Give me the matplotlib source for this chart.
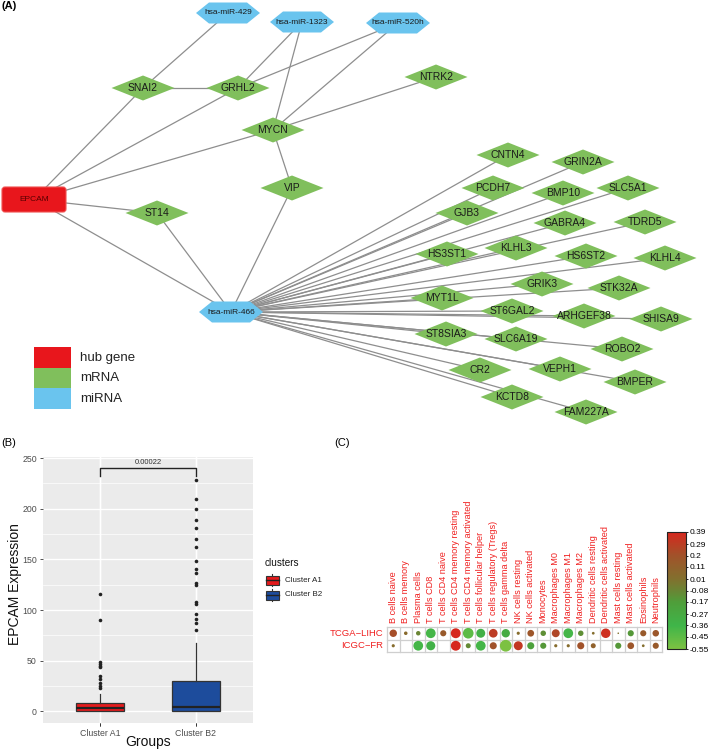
import numpy as np
import matplotlib
matplotlib.use('Agg')
import matplotlib.pyplot as plt
from matplotlib.patches import Polygon, FancyBboxPatch, Rectangle, Circle
from matplotlib.colors import LinearSegmentedColormap, Normalize
from matplotlib.cm import ScalarMappable

plt.rcParams['font.family'] = ['Liberation Sans', 'DejaVu Sans']

# ---------------- Panel A data (network) ----------------
hub_genes = ['EPCAM']
mirnas = ['hsa-miR-429', 'hsa-miR-1323', 'hsa-miR-520h', 'hsa-miR-466']
mrnas = ['SNAI2', 'GRHL2', 'NTRK2', 'MYCN', 'VIP', 'ST14',
         'CNTN4', 'GRIN2A', 'PCDH7', 'BMP10', 'SLC5A1', 'GJB3', 'GABRA4',
         'TDRD5', 'HS3ST1', 'KLHL3', 'HS6ST2', 'KLHL4', 'GRIK3', 'STK32A',
         'MYT1L', 'ST6GAL2', 'ARHGEF38', 'SHISA9', 'ST8SIA3', 'SLC6A19',
         'ROBO2', 'CR2', 'VEPH1', 'BMPER', 'KCTD8', 'FAM227A']
mir466_targets = mrnas[6:]
edges = ([('hsa-miR-429', 'SNAI2'), ('hsa-miR-1323', 'GRHL2'), ('hsa-miR-1323', 'MYCN'),
          ('hsa-miR-520h', 'GRHL2'), ('hsa-miR-520h', 'MYCN'), ('SNAI2', 'GRHL2'),
          ('EPCAM', 'SNAI2'), ('EPCAM', 'GRHL2'), ('EPCAM', 'MYCN'), ('MYCN', 'NTRK2'),
          ('MYCN', 'VIP'), ('VIP', 'hsa-miR-466'), ('EPCAM', 'ST14'),
          ('EPCAM', 'hsa-miR-466'), ('ST14', 'hsa-miR-466')]
         + [('hsa-miR-466', g) for g in mir466_targets])
legend_labels = ['hub gene', 'mRNA', 'miRNA']

# network layout (pixel canvas)
layout = {
    'EPCAM': (34, 199.5),
    'hsa-miR-429': (228, 13), 'hsa-miR-1323': (302, 22), 'hsa-miR-520h': (398, 23),
    'hsa-miR-466': (231, 312),
    'SNAI2': (143, 88), 'GRHL2': (238, 88), 'NTRK2': (436, 77), 'MYCN': (273, 130),
    'VIP': (292, 188), 'ST14': (157, 213),
    'CNTN4': (508, 155), 'GRIN2A': (583, 162), 'PCDH7': (493, 188), 'BMP10': (563, 193),
    'SLC5A1': (628, 188), 'GJB3': (467, 213), 'GABRA4': (565, 223), 'TDRD5': (645, 222),
    'HS3ST1': (447, 254), 'KLHL3': (516, 248), 'HS6ST2': (586, 256), 'KLHL4': (665, 258),
    'GRIK3': (542, 284), 'STK32A': (619, 288), 'MYT1L': (442, 298), 'ST6GAL2': (512, 311),
    'ARHGEF38': (584, 316), 'SHISA9': (661, 319), 'ST8SIA3': (446, 334),
    'SLC6A19': (516, 339), 'ROBO2': (622, 349), 'CR2': (480, 370), 'VEPH1': (560, 369),
    'BMPER': (635, 382), 'KCTD8': (512, 397), 'FAM227A': (586, 412),
}

# ---------------- Panel B data (boxplot) ----------------
cluster_names = ['Cluster A1', 'Cluster B2']
box_q1 = [0.0, 0.5]
box_median = [3.0, 4.5]
box_q3 = [8.5, 30.0]
whisker_low = [0.0, 0.0]
whisker_high = [17.0, 67.0]
outliers_a1 = [116, 90, 49, 47, 45, 44, 35, 32, 28, 25, 23]
outliers_b2 = [228, 210, 200, 189, 181, 170, 162, 148, 140, 137, 127, 125,
               108, 106, 96, 91, 87, 80]
p_value_label = '0.00022'
y_ticks_b = [0, 50, 100, 150, 200, 250]

# ---------------- Panel C data (correlation dots) ----------------
cell_types = ['B cells naive', 'B cells memory', 'Plasma cells', 'T cells CD8',
              'T cells CD4 naive', 'T cells CD4 memory resting',
              'T cells CD4 memory activated', 'T cells follicular helper',
              'T cells regulatory (Tregs)', 'T cells gamma delta', 'NK cells resting',
              'NK cells activated', 'Monocytes', 'Macrophages M0', 'Macrophages M1',
              'Macrophages M2', 'Dendritic cells resting', 'Dendritic cells activated',
              'Mast cells resting', 'Mast cells activated', 'Eosinophils', 'Neutrophils']
cohorts = ['TCGA\u2212LIHC', 'ICGC\u2212FR']
corr_tcga = [0.22, 0.05, -0.08, -0.38, 0.15, 0.39, -0.45, -0.32, 0.30, -0.28, 0.04,
             0.18, -0.12, 0.25, -0.38, -0.12, 0.03, 0.36, 0.01, -0.15, 0.15, 0.17]
corr_icgc = [0.04, np.nan, -0.38, -0.33, np.nan, 0.39, -0.10, -0.38, 0.20, -0.55, 0.32,
             -0.20, -0.15, 0.04, 0.04, 0.20, 0.10, np.nan, -0.15, 0.18, 0.03, 0.15]
cbar_ticks = [-0.55, -0.45, -0.36, -0.27, -0.17, -0.08, 0.01, 0.11, 0.2, 0.29, 0.39]
cbar_labels = ['-0.55', '-0.45', '-0.36', '-0.27', '-0.17',
               '-0.08', '0.01', '0.11', '0.2', '0.29', '0.39']

# ---------------- figure ----------------
W, H = 709, 751
fig = plt.figure(figsize=(W / 100, H / 100), dpi=100)
canvas = fig.add_axes([0, 0, 1, 1])
canvas.set_xlim(0, W)
canvas.set_ylim(H, 0)
canvas.axis('off')

RED = '#e8161c'
GREEN = '#80bf5c'
BLUE = '#6ac4ee'

for a, b in edges:
    (x1, y1), (x2, y2) = layout[a], layout[b]
    canvas.plot([x1, x2], [y1, y2], color='#8e8e8e', lw=0.9, zorder=1)

dw, dh = 63, 25
for g in mrnas:
    x, y = layout[g]
    canvas.add_patch(Polygon([(x - dw / 2, y), (x, y - dh / 2), (x + dw / 2, y), (x, y + dh / 2)],
                             closed=True, facecolor=GREEN, edgecolor='none', zorder=2))
    canvas.text(x, y, g, ha='center', va='center', fontsize=7.5, color='#1a1a1a', zorder=3)

hw, hh, hk = 64, 21, 13
for m in mirnas:
    x, y = layout[m]
    canvas.add_patch(Polygon([(x - hw / 2, y), (x - hw / 2 + hk, y - hh / 2),
                              (x + hw / 2 - hk, y - hh / 2), (x + hw / 2, y),
                              (x + hw / 2 - hk, y + hh / 2), (x - hw / 2 + hk, y + hh / 2)],
                             closed=True, facecolor=BLUE, edgecolor='none', zorder=2))
    canvas.text(x, y, m, ha='center', va='center', fontsize=6, color='#1a1a1a', zorder=3)

for h in hub_genes:
    x, y = layout[h]
    canvas.add_patch(FancyBboxPatch((x - 32, y - 12.5), 64, 25,
                                    boxstyle='round,pad=0,rounding_size=3',
                                    facecolor=RED, edgecolor='#f05050', lw=0.8, zorder=2))
    canvas.text(x, y, h, ha='center', va='center', fontsize=6, color='#5a0000', zorder=3)

leg_colors = [RED, GREEN, BLUE]
for i, (lab, c) in enumerate(zip(legend_labels, leg_colors)):
    canvas.add_patch(Rectangle((34, 347 + i * 20.5), 37, 20.5, facecolor=c, edgecolor='none'))
    canvas.text(80, 347 + i * 20.5 + 10.5, lab, ha='left', va='center', fontsize=9.5,
                color='#222222')

canvas.text(1, 6, '(A)', fontsize=8, fontweight='bold', ha='left', va='center')
canvas.text(1, 443, '(B)', fontsize=8, ha='left', va='center')
canvas.text(334, 443, '(C)', fontsize=8, ha='left', va='center')

# ---------------- Panel B ----------------
axb = fig.add_axes([43 / W, 1 - 723 / H, 210 / W, 266 / H])
axb.set_facecolor('#ebebeb')
axb.set_xlim(0.4, 2.6)
axb.set_ylim(-11.5, 251)
for sp in axb.spines.values():
    sp.set_visible(False)
axb.set_yticks(y_ticks_b)
axb.set_yticks([25, 75, 125, 175, 225], minor=True)
axb.set_xticks([1, 2])
axb.set_xticklabels(cluster_names)
axb.grid(True, which='major', color='white', lw=1.0)
axb.grid(True, which='minor', axis='y', color='white', lw=0.5)
axb.set_axisbelow(True)
axb.tick_params(axis='both', which='major', labelsize=6.3, labelcolor='#4d4d4d',
                color='#333333', length=2.5, width=0.6, pad=2)
axb.tick_params(axis='y', which='minor', length=0)

stats = []
fl = [outliers_a1, outliers_b2]
for i in range(2):
    stats.append(dict(label=cluster_names[i], med=box_median[i], q1=box_q1[i], q3=box_q3[i],
                      whislo=whisker_low[i], whishi=whisker_high[i], fliers=fl[i]))
bp = axb.bxp(stats, positions=[1, 2], widths=0.5, patch_artist=True, showcaps=False,
             boxprops=dict(edgecolor='#333333', lw=0.9),
             medianprops=dict(color='#222222', lw=1.6),
             whiskerprops=dict(color='#333333', lw=0.9),
             flierprops=dict(marker='o', markersize=2.6, markerfacecolor='#222222',
                             markeredgecolor='none'))
box_colors = ['#e41a1c', '#1d4c9c']
for patch, c in zip(bp['boxes'], box_colors):
    patch.set_facecolor(c)
    patch.set_zorder(2)

axb.plot([1, 1, 2, 2], [232, 240, 240, 232], color='#222222', lw=1.0)
axb.text(1.5, 242, p_value_label, ha='center', va='bottom', fontsize=5.5, color='#333333')

canvas.text(15, 584, 'EPCAM Expression', rotation=90, ha='center', va='center', fontsize=10,
            color='#111111')
canvas.text(148, 742, 'Groups', ha='center', va='center', fontsize=10, color='#111111')

# legend of B
canvas.text(265, 563, 'clusters', ha='left', va='center', fontsize=7.2, color='#111111')
for i, (lab, c) in enumerate(zip(cluster_names, box_colors)):
    yc = 580 + i * 15
    canvas.plot([272, 272], [yc - 6, yc + 6], color='#333333', lw=0.8, zorder=3)
    canvas.add_patch(Rectangle((266, yc - 4.5), 13, 9, facecolor=c, edgecolor='#333333',
                               lw=0.8, zorder=4))
    canvas.plot([266, 279], [yc, yc], color='#222222', lw=1.0, zorder=5)
    canvas.text(285, yc, lab, ha='left', va='center', fontsize=5.8, color='#222222')

# ---------------- Panel C ----------------
cmap = LinearSegmentedColormap.from_list('gr', [
    (0.0, '#7cc142'), (0.20, '#3fb549'), (0.40, '#4f9e3a'), (0.50, '#6a8534'),
    (0.60, '#82702e'), (0.80, '#a1522a'), (1.0, '#d6281e')])
norm = Normalize(vmin=-0.55, vmax=0.39)

axc = fig.add_axes([387 / W, 1 - 652 / H, 275 / W, 25 / H])
axc.set_xlim(0, len(cell_types))
axc.set_ylim(len(cohorts), 0)
axc.axis('off')
for j in range(len(cell_types) + 1):
    axc.plot([j, j], [0, len(cohorts)], color='#cfcfcf', lw=0.9, zorder=1, clip_on=False)
for i in range(len(cohorts) + 1):
    axc.plot([0, len(cell_types)], [i, i], color='#cfcfcf', lw=0.9, zorder=1, clip_on=False)

rows = [corr_tcga, corr_icgc]
for i, row in enumerate(rows):
    for j, v in enumerate(row):
        if np.isnan(v):
            continue
        r = 0.47 * np.sqrt(abs(v) / 0.55)
        axc.add_patch(Circle((j + 0.5, i + 0.5), r, facecolor=cmap(norm(v)),
                             edgecolor='none', zorder=2))

red_txt = '#f02020'
for i, c in enumerate(cohorts):
    axc.text(-0.3, i + 0.5, c, ha='right', va='center', fontsize=6.8, color=red_txt)
for j, ct in enumerate(cell_types):
    axc.text(j + 0.5, -0.35, ct, rotation=90, ha='center', va='bottom', fontsize=6.6,
             color=red_txt)

axcb = fig.add_axes([667 / W, 1 - 649 / H, 19 / W, 117 / H])
cb = fig.colorbar(ScalarMappable(norm=norm, cmap=cmap), cax=axcb, ticks=cbar_ticks)
cb.ax.set_yticklabels(cbar_labels)
cb.ax.tick_params(labelsize=6.0, length=1.5, width=0.6, pad=0.8)
cb.outline.set_linewidth(0.8)
cb.outline.set_edgecolor('#222222')

fig.savefig('out.png', dpi=100)
